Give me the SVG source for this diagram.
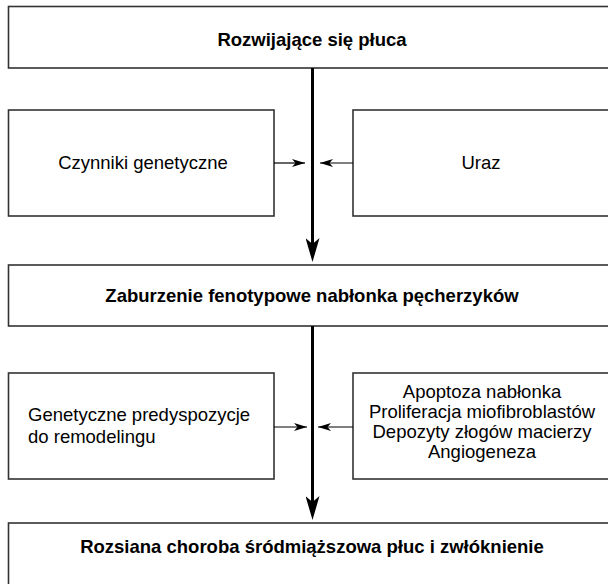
<svg xmlns="http://www.w3.org/2000/svg" width="608" height="584" viewBox="0 0 608 584">
<style>
.box{fill:#fff;stroke:#333;stroke-width:1.6}
.t{font-family:"Liberation Sans",Arial,Helvetica,sans-serif;font-size:18.5px;fill:#000}
.b{font-weight:bold;text-anchor:middle}
.c{text-anchor:middle}
.main{stroke:#000;stroke-width:3;fill:none}
.thin{stroke:#000;stroke-width:1.2;fill:none}
</style>
<defs>
<marker id="big" markerUnits="userSpaceOnUse" viewBox="0 0 14 24" refX="7" refY="12" markerWidth="14" markerHeight="24" orient="0">
<path d="M0,0 L7,6 L14,0 L7,24 z" fill="#000"/>
</marker>
<marker id="small" markerUnits="userSpaceOnUse" viewBox="0 0 13 8" refX="13" refY="4" markerWidth="13" markerHeight="8" orient="auto">
<path d="M0,0 L13,4 L0,8 L3.5,4 z" fill="#000"/>
</marker>
</defs>
<g id="n1"><rect class="box" x="8.5" y="6.5" width="610" height="61.5"/><text class="t b" x="312" y="46">Rozwijające się płuca</text></g>
<g id="n2"><rect class="box" x="8.5" y="110" width="265.5" height="106"/><text class="t c" x="143" y="169">Czynniki genetyczne</text></g>
<g id="n3"><rect class="box" x="353" y="110" width="265" height="106"/><text class="t c" x="481" y="169">Uraz</text></g>
<g id="n4"><rect class="box" x="8.5" y="265" width="610" height="61"/><text class="t b" x="312" y="302">Zaburzenie fenotypowe nabłonka pęcherzyków</text></g>
<g id="n5"><rect class="box" x="8.5" y="373" width="265.5" height="106"/><text class="t" x="28" y="421">Genetyczne predyspozycje</text><text class="t" x="28" y="443">do remodelingu</text></g>
<g id="n6"><rect class="box" x="353" y="373" width="265" height="106"/><text class="t c" x="482" y="398">Apoptoza nabłonka</text><text class="t c" x="482" y="418">Proliferacja miofibroblastów</text><text class="t c" x="482" y="438">Depozyty złogów macierzy</text><text class="t c" x="482" y="458">Angiogeneza</text></g>
<g id="n7"><rect class="box" x="8.5" y="523" width="610" height="80"/><text class="t b" x="312" y="553">Rozsiana choroba śródmiąższowa płuc i zwłóknienie</text></g>
<g id="connectors">
<line class="main" x1="312.5" y1="68" x2="312.5" y2="250" marker-end="url(#big)"/>
<line class="main" x1="312.5" y1="326" x2="312.5" y2="508" marker-end="url(#big)"/>
<line class="thin" x1="274" y1="163" x2="305" y2="163" marker-end="url(#small)"/>
<line class="thin" x1="353" y1="163" x2="320" y2="163" marker-end="url(#small)"/>
<line class="thin" x1="274" y1="427" x2="307" y2="427" marker-end="url(#small)"/>
<line class="thin" x1="353" y1="427" x2="318" y2="427" marker-end="url(#small)"/>
</g>
</svg>
